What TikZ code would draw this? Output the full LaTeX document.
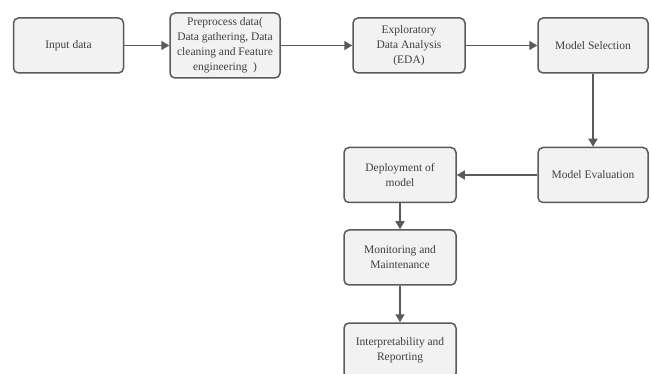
\documentclass[tikz,border=0pt]{standalone}
\usepackage{fontspec}
\setmainfont{Liberation Serif}
\definecolor{boxgray}{HTML}{F2F2F2}
\definecolor{linegray}{HTML}{5A5A5A}
\tikzset{
    stagebox/.style={draw=linegray, line width=1.5pt, fill=boxgray, rounded corners=5pt,
        minimum width=110pt, minimum height=55pt, align=center, text=black!75,
        font=\fontsize{11.5}{15}\selectfont, inner sep=1pt},
    flow/.style={draw=linegray, line width=1.5pt, -{Triangle[length=8pt,width=9pt]}}
}
\usetikzlibrary{arrows.meta}
\begin{document}
\begin{tikzpicture}[x=1pt, y=-1pt]
    \useasboundingbox (0,0) rectangle (651,374);
    \node[stagebox] (input) at (68.5,45.5) {Input data};
    \node[stagebox, minimum height=65pt] (prep) at (225,45.5) {Preprocess data(\\Data gathering, Data\\cleaning and Feature\\engineering\ \ )};
    \node[stagebox, minimum width=112pt] (eda) at (409,45.5) {Exploratory\\Data Analysis\\(EDA)};
    \node[stagebox] (select) at (593,45.5) {Model Selection};
    \node[stagebox] (eval) at (593,175) {Model Evaluation};
    \node[stagebox, minimum width=112pt] (deploy) at (400,175) {Deployment of\\model};
    \node[stagebox, minimum width=112pt] (monitor) at (400,257.5) {Monitoring and\\Maintenance};
    \node[stagebox, minimum width=112pt] (report) at (400,350.5) {Interpretability and\\Reporting};
    % connectors
    \draw[flow] (input) -- (prep);
    \draw[flow] (prep) -- (eda);
    \draw[flow] (eda) -- (select);
    \draw[flow] (select) -- (eval);
    \draw[flow] (eval) -- (deploy);
    \draw[flow] (deploy) -- (monitor);
    \draw[flow] (monitor) -- (report);
\end{tikzpicture}
\end{document}
